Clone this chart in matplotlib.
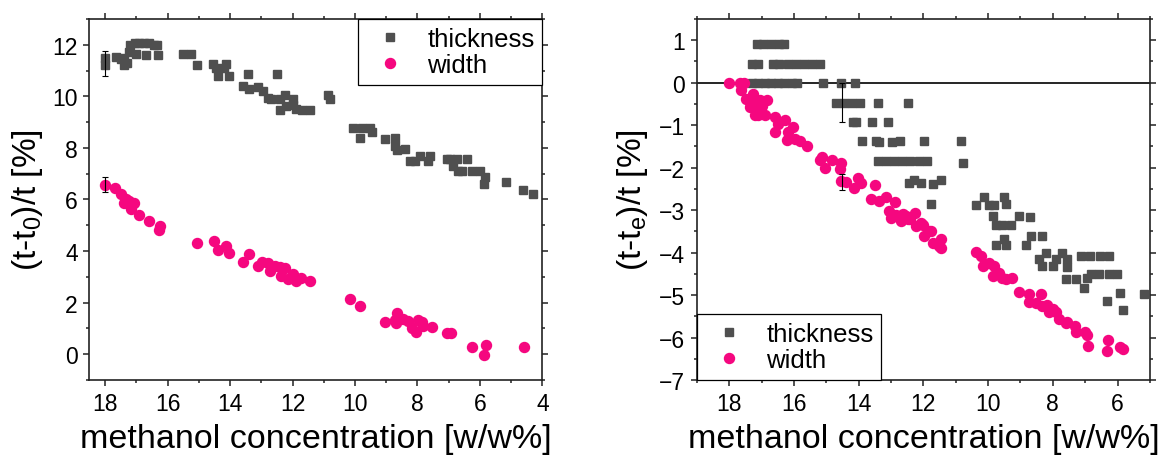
import matplotlib
matplotlib.use("Agg")
import matplotlib.pyplot as plt
from matplotlib.ticker import MultipleLocator

plt.rcParams["font.family"] = ["Liberation Sans", "DejaVu Sans"]
plt.rcParams["mathtext.default"] = "regular"

# relative change vs. initial size, (t-t0)/t in %
thick0_conc = [18.0, 18.0, 17.65, 17.38, 17.38, 17.2, 17.05, 16.9, 16.75, 16.6, 16.45, 16.35,
               17.25, 17.0, 16.7, 16.3, 17.5, 17.3, 15.51, 15.24, 15.06, 14.55, 14.44, 14.39,
               14.12, 14.18, 14.02, 13.59, 13.38, 13.41, 13.09, 12.95, 12.49, 12.79, 12.68,
               12.41, 12.41, 12.25, 12.0, 11.99, 12.2, 11.88, 11.69, 11.45, 10.87, 10.79,
               10.06, 9.79, 9.85, 9.53, 9.47, 9.05, 8.73, 8.73, 8.67, 8.41, 8.25, 8.09, 7.93,
               7.61, 7.66, 7.05, 6.96, 6.75, 6.43, 6.86, 6.7, 6.59, 6.27, 6.0, 5.84, 5.87,
               5.17, 4.62, 4.3]
thick0_val = [11.49, 11.23, 11.53, 11.49, 11.23, 12.0, 12.05, 12.05, 12.05, 12.05, 12.0, 12.0,
              11.7, 11.65, 11.6, 11.6, 11.45, 11.3, 11.65, 11.65, 11.2, 11.27, 11.1, 10.8,
              11.27, 11.1, 10.8, 10.42, 10.29, 10.86, 10.35, 10.2, 10.86, 9.95, 9.88,
              9.88, 9.46, 10.07, 9.88, 9.65, 9.62, 9.5, 9.46, 9.46, 10.07, 9.88,
              8.79, 8.79, 8.37, 8.79, 8.6, 8.34, 8.38, 8.08, 7.93, 7.95, 7.5, 7.5, 7.7,
              7.7, 7.5, 7.57, 7.57, 7.57, 7.57, 7.31, 7.12, 7.12, 7.12, 7.12, 6.86, 6.6,
              6.67, 6.37, 6.22]

width0_conc = [18.0, 17.67, 17.49, 17.33, 17.22, 17.06, 17.38, 17.17, 16.92, 16.61, 16.23, 16.29,
               15.06, 14.52, 14.39, 14.14, 14.02, 13.59, 13.38, 13.09, 12.97, 12.79, 12.73,
               12.57, 12.41, 12.25, 12.38, 12.15, 11.99, 11.9, 11.72, 11.45, 10.15, 9.85,
               9.03, 8.67, 8.73, 8.7, 8.46, 8.3, 8.19, 8.05, 7.98, 7.87, 7.82, 7.52, 7.07,
               6.94, 6.25, 5.82, 5.87, 4.6]
width0_val = [6.58, 6.45, 6.22, 6.03, 5.96, 5.87, 5.86, 5.64, 5.41, 5.15, 4.97, 4.83,
              4.33, 4.38, 4.06, 4.2, 3.91, 3.59, 3.87, 3.42, 3.56, 3.52, 3.23,
              3.42, 3.39, 3.33, 3.03, 2.9, 3.1, 2.82, 2.97, 2.84, 2.15, 1.88,
              1.25, 1.6, 1.34, 1.21, 1.38, 1.27, 1.02, 0.85, 1.34, 1.25, 1.11, 1.06, 0.82,
              0.82, 0.27, 0.37, -0.03, 0.27]

# relative change vs. equilibrium size, (t-te)/t in %
thicke_conc = [17.15, 16.95, 16.7, 16.45, 16.3,
               17.3, 17.1, 16.65, 16.45, 16.2, 15.95, 15.7, 15.45, 15.2,
               17.3, 17.1, 16.9, 16.7, 16.5, 16.3, 16.05, 15.9, 15.1, 14.56, 14.1,
               14.7, 14.45, 14.2, 13.95, 13.41, 12.48,
               14.18, 14.07, 13.58, 13.08,
               13.89, 13.46, 13.36, 12.98, 12.72, 11.99, 10.84,
               13.4, 13.15, 12.9, 12.65, 12.4, 12.15, 11.9, 10.79,
               12.45, 12.28, 12.07, 11.71, 11.45, 11.76,
               10.38, 10.12, 9.97, 9.81, 9.5, 9.45,
               9.86, 9.76, 9.56, 9.3, 9.04, 8.7,
               9.76, 9.5, 9.45, 8.84, 8.68, 8.32,
               8.43, 8.22, 8.32, 8.01, 7.91, 7.71, 7.55, 7.55,
               7.14, 6.85, 6.55, 6.27,
               7.6, 7.29, 6.94, 6.83, 6.58, 6.27, 6.01,
               7.04, 6.32, 5.91, 5.84, 5.19]
thicke_val = [0.9, 0.9, 0.9, 0.9, 0.9,
              0.45, 0.45, 0.45, 0.45, 0.45, 0.45, 0.45, 0.45, 0.45,
              0.0, 0.0, 0.0, 0.0, 0.0, 0.0, 0.0, 0.0, 0.0, 0.0, 0.0,
              -0.47, -0.47, -0.47, -0.47, -0.47, -0.47,
              -0.92, -0.92, -0.92, -0.92,
              -1.37, -1.38, -1.4, -1.4, -1.37, -1.37, -1.37,
              -1.85, -1.85, -1.85, -1.85, -1.85, -1.85, -1.85, -1.89,
              -2.36, -2.28, -2.36, -2.38, -2.3, -2.85,
              -2.89, -2.69, -2.89, -2.89, -2.69, -2.85,
              -3.15, -3.34, -3.34, -3.34, -3.15, -3.16,
              -3.83, -3.68, -3.83, -3.83, -3.6, -3.61,
              -4.15, -4.02, -4.32, -4.32, -4.15, -4.02, -4.15, -4.33,
              -4.07, -4.07, -4.07, -4.07,
              -4.63, -4.63, -4.6, -4.5, -4.5, -4.5, -4.5,
              -4.84, -5.13, -4.95, -5.35, -4.97]

widthe_conc = [18.0, 17.67, 17.55, 17.65, 17.28, 17.49, 17.36, 17.21, 17.05, 16.85, 17.36, 17.16,
               17.0, 17.21, 17.11, 16.9, 16.59, 16.28, 16.49, 16.59, 16.03, 16.18, 16.23,
               15.98, 15.82, 15.61, 15.12, 14.84, 15.2, 15.05, 14.54, 14.59, 14.54, 14.38,
               14.16, 14.02, 13.92, 13.51, 13.61, 13.36, 13.15, 12.89, 13.07, 13.0, 12.84,
               12.69, 12.53, 12.43, 12.25, 12.23, 12.07, 11.97, 11.82, 11.71, 11.51, 12.64,
               12.48, 12.02, 11.76, 11.45, 11.45,
               10.38, 10.22, 10.17, 9.97, 9.81, 9.86, 9.66, 9.56, 9.45, 9.25, 9.04, 8.73,
               8.37, 8.73, 8.53, 8.32, 8.17, 8.01, 8.12, 7.91, 7.81, 7.6, 7.55, 7.32, 7.28,
               7.01, 6.94, 6.91, 6.29, 6.32, 5.91, 5.84]
widthe_val = [0.0, 0.0, 0.0, -0.17, -0.27, -0.39, -0.45, -0.48, -0.41, -0.41, -0.58, -0.6,
              -0.56, -0.76, -0.76, -0.76, -0.8, -0.89, -0.97, -1.15, -1.05, -1.16, -1.35,
              -1.33, -1.38, -1.49, -1.74, -1.83, -1.83, -2.01, -1.89, -2.03, -2.32, -2.35,
              -2.48, -2.24, -2.36, -2.4, -2.75, -2.79, -2.68, -2.82, -3.01, -3.18, -3.11,
              -3.26, -3.15, -3.22, -3.07, -3.38, -3.3, -3.62, -3.5, -3.77, -3.85, -3.1,
              -3.22, -3.34, -3.5, -3.67, -3.89,
              -3.99, -4.08, -4.32, -4.24, -4.32, -4.55, -4.47, -4.59, -4.63, -4.59, -4.93, -4.98,
              -4.98, -5.16, -5.18, -5.26, -5.24, -5.34, -5.41, -5.41, -5.57, -5.65, -5.63, -5.73, -5.88,
              -5.87, -5.95, -6.21, -6.06, -6.31, -6.23, -6.27]

# representative error bars (conc, value, err)
err0_thick = (18.0, 11.26, 0.49)
err0_width = (18.0, 6.58, 0.29)
erre_thick = (14.53, -0.46, 0.46)
erre_width = (14.53, -2.33, 0.19)

GREY = "#4f4f4f"
PINK = "#f5077f"
SPINE = "#222222"


def style_axes(ax, xlim, ylim, ymaj, ymin, label_x):
    ax.set_xlim(*xlim)
    ax.set_ylim(*ylim)
    ax.xaxis.set_major_locator(MultipleLocator(2))
    ax.xaxis.set_minor_locator(MultipleLocator(1))
    ax.yaxis.set_major_locator(MultipleLocator(ymaj))
    ax.yaxis.set_minor_locator(MultipleLocator(ymin))
    ax.tick_params(which="both", direction="out", top=True, right=True, color=SPINE,
                   width=1.1, labelsize=16.5, pad=4)
    ax.tick_params(which="major", length=4.5)
    ax.tick_params(which="minor", length=2.5)
    for s in ax.spines.values():
        s.set_linewidth(1.2)
        s.set_color(SPINE)
    ax.set_xlabel("methanol concentration [w/w%]", fontsize=24.5, labelpad=6)
    ax.yaxis.set_label_coords(label_x, 0.5)


def draw_panel(ax, tc, tv, wc, wv, et, ew):
    ax.plot(tc, tv, ls="none", marker="s", ms=6.3, color=GREY, mec=GREY, label="thickness", zorder=3)
    ax.plot(wc, wv, ls="none", marker="o", ms=7.2, color=PINK, mec=PINK, label="width", zorder=3)
    for c, v, e in (et, ew):
        ax.errorbar([c], [v], yerr=[e], fmt="none", ecolor="black", elinewidth=0.8,
                    capsize=2.5, capthick=0.8, zorder=4)


def add_legend(ax, loc):
    leg = ax.legend(loc=loc, fontsize=18.5, frameon=True, fancybox=False, edgecolor="black",
                    framealpha=1, borderaxespad=0, borderpad=0.3, handlelength=1.9,
                    handletextpad=0.5, labelspacing=0.1, markerscale=1.0)
    leg.get_frame().set_linewidth(0.9)


fig = plt.figure(figsize=(11.68, 4.56), dpi=100)
ax1 = fig.add_axes([0.0766, 0.1645, 0.3878, 0.7917])
ax2 = fig.add_axes([0.5967, 0.1645, 0.3878, 0.7917])

draw_panel(ax1, thick0_conc, thick0_val, width0_conc, width0_val, err0_thick, err0_width)
style_axes(ax1, (18.5, 4), (-1, 13), 2, 1, -0.098)
ax1.set_ylabel("(t-t$_0$)/t [%]", fontsize=24)
add_legend(ax1, "upper right")

ax2.axhline(0, color="black", lw=1.2, zorder=2)
draw_panel(ax2, thicke_conc, thicke_val, widthe_conc, widthe_val, erre_thick, erre_width)
style_axes(ax2, (19, 5), (-7, 1.5), 1, 0.5, -0.104)
ax2.set_ylabel("(t-t$_e$)/t [%]", fontsize=24)
add_legend(ax2, "lower left")

fig.savefig("out.png", dpi=100)
